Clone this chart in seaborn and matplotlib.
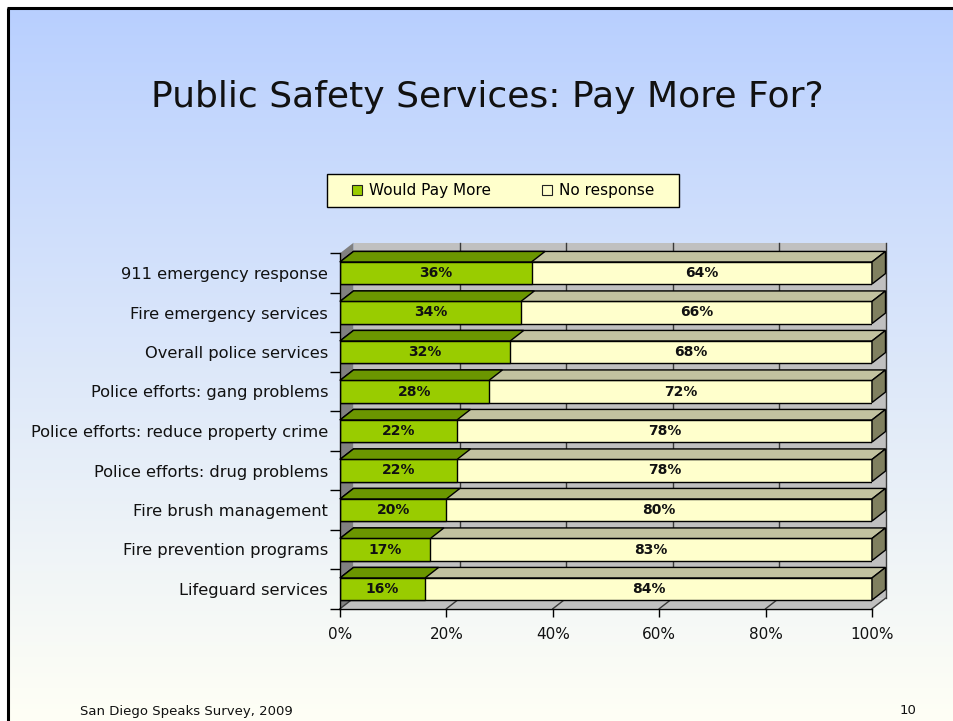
import numpy as np
import matplotlib
matplotlib.use("Agg")
import matplotlib.pyplot as plt
import seaborn as sns
import pandas as pd
from matplotlib.patches import Polygon, Rectangle
from matplotlib.lines import Line2D

# ---- data ----
services = [
    "911 emergency response",
    "Fire emergency services",
    "Overall police services",
    "Police efforts: gang problems",
    "Police efforts: reduce property crime",
    "Police efforts: drug problems",
    "Fire brush management",
    "Fire prevention programs",
    "Lifeguard services",
]
would_pay_more = [36, 34, 32, 28, 22, 22, 20, 17, 16]
no_response = [64, 66, 68, 72, 78, 78, 80, 83, 84]
x_ticks = [0, 20, 40, 60, 80, 100]
series_names = ["Would Pay More", "No response"]

# ---- colours ----
GREEN = "#99CC00"
GREEN_TOP = "#6B9600"
CREAM = "#FFFFCC"
CREAM_TOP = "#C2C2A0"
CREAM_SIDE = "#808060"
WALL = "#C0C0C0"
SIDE_WALL = "#808080"
TEXT = "#111111"

W, H = 954, 721
fig = plt.figure(figsize=(W / 100, H / 100), dpi=100)
fig.patch.set_facecolor("white")

# ---- slide background: vertical gradient with a black frame ----
bg = fig.add_axes([0, 0, 1, 1])
bg.set_axis_off()
t = np.linspace(0, 1, 256)[:, None, None]
top_rgb = np.array([184, 207, 255]) / 255
bot_rgb = np.array([255, 255, 245]) / 255
grad = top_rgb + (bot_rgb - top_rgb) * t ** 0.95
bg.imshow(grad, extent=[9, W, H, 9], aspect="auto", origin="upper", zorder=0)
bg.set_xlim(0, W)
bg.set_ylim(H, 0)
bg.plot([8, 8], [H, 7.5], color="black", lw=2.2, solid_capstyle="butt")
bg.plot([6.9, W], [8, 8], color="black", lw=2.2, solid_capstyle="butt")

# legend box
bg.add_patch(Rectangle((327, 174), 352, 33, facecolor=CREAM, edgecolor="black", lw=1, zorder=2))

# title and footer
fig.text(487 / W, 1 - 97 / H, "Public Safety Services: Pay More For?",
         ha="center", va="center", fontsize=26, color=TEXT)
fig.text(80 / W, 1 - 711 / H, "San Diego Speaks Survey, 2009",
         ha="left", va="center", fontsize=9.5, color=TEXT)
fig.text(916 / W, 1 - 711 / H, "10", ha="right", va="center", fontsize=9.5, color=TEXT)

# ---- chart ----
ax = fig.add_axes([340 / W, 1 - 608.75 / H, 532 / W, 355.5 / H])
ax.patch.set_alpha(0)

df = pd.DataFrame({"service": services, "pay": would_pay_more, "none": no_response})
df["total"] = df["pay"] + df["none"]

BAR_W = 0.56
sns.barplot(data=df, y="service", x="total", color=CREAM, orient="h", width=BAR_W,
            saturation=1, edgecolor="black", linewidth=1, ax=ax, zorder=3)
sns.barplot(data=df, y="service", x="pay", color=GREEN, orient="h", width=BAR_W,
            saturation=1, edgecolor="black", linewidth=1, ax=ax, zorder=4)

ax.set_xlim(0, 100)
ax.set_ylim(len(services) - 0.5, -0.5)
ymax, ymin = len(services) - 0.5, -0.5

# depth of the 3-D effect in data units
DX = 2.54
DY = 0.266

# walls and floor
ax.add_patch(Rectangle((DX, ymin - DY), 100, ymax - ymin, facecolor=WALL,
                       edgecolor="none", zorder=0.5, clip_on=False))
ax.add_patch(Polygon([(0, ymin), (DX, ymin - DY), (DX, ymax - DY), (0, ymax)],
                     closed=True, facecolor=SIDE_WALL, edgecolor="none", zorder=0.6, clip_on=False))
ax.add_patch(Polygon([(0, ymax), (100, ymax), (100 + DX, ymax - DY), (DX, ymax - DY)],
                     closed=True, facecolor=WALL, edgecolor="none", zorder=0.6, clip_on=False))
for xt in x_ticks[1:]:
    ax.plot([xt + DX, xt + DX], [ymin - DY, ymax - DY], color="#3a3a3a", lw=1,
            zorder=0.8, clip_on=False)
for xt in x_ticks:
    ax.plot([xt, xt + DX], [ymax, ymax - DY], color="#3a3a3a", lw=1,
            zorder=0.8, clip_on=False)

# 3-D faces on the bars
n = len(services)
cream_bars = ax.patches[:n]
green_bars = ax.patches[n:2 * n]
for p in cream_bars:
    x0, y0, w, h = p.get_x(), p.get_y(), p.get_width(), p.get_height()
    ax.add_patch(Polygon([(x0, y0), (x0 + w, y0), (x0 + w + DX, y0 - DY), (x0 + DX, y0 - DY)],
                         closed=True, facecolor=CREAM_TOP, edgecolor="black", lw=1,
                         zorder=3, clip_on=False))
    ax.add_patch(Polygon([(x0 + w, y0), (x0 + w + DX, y0 - DY), (x0 + w + DX, y0 + h - DY),
                          (x0 + w, y0 + h)],
                         closed=True, facecolor=CREAM_SIDE, edgecolor="black", lw=1,
                         zorder=3, clip_on=False))
for p in green_bars:
    x0, y0, w, h = p.get_x(), p.get_y(), p.get_width(), p.get_height()
    ax.add_patch(Polygon([(x0, y0), (x0 + w, y0), (x0 + w + DX, y0 - DY), (x0 + DX, y0 - DY)],
                         closed=True, facecolor=GREEN_TOP, edgecolor="black", lw=1,
                         zorder=4, clip_on=False))

# value labels
for i, (a, b) in enumerate(zip(would_pay_more, no_response)):
    ax.text(a / 2, i, f"{a}%", ha="center", va="center", fontsize=10,
            fontweight="bold", color=TEXT, zorder=6)
    ax.text(a + b / 2, i, f"{b}%", ha="center", va="center", fontsize=10,
            fontweight="bold", color=TEXT, zorder=6)

# axes styling
for s in ["top", "right"]:
    ax.spines[s].set_visible(False)
for s in ["left", "bottom"]:
    ax.spines[s].set_color("black")
    ax.spines[s].set_linewidth(1)
    ax.spines[s].set_zorder(5)
ax.set_xlabel("")
ax.set_ylabel("")
ax.set_xticks(x_ticks)
ax.set_xticklabels([f"{v}%" for v in x_ticks])
ax.tick_params(axis="x", length=6, width=1, color="black", pad=7, labelsize=11,
               labelcolor=TEXT)
ax.tick_params(axis="y", which="major", length=0, pad=8.5, labelsize=11.7, labelcolor=TEXT)
ax.set_yticks(np.arange(-0.5, n, 1), minor=True)
ax.tick_params(axis="y", which="minor", length=7, width=1, color="black")
ax.grid(False)

# legend
handles = [
    Line2D([0], [0], marker="s", ls="", markerfacecolor=GREEN, markeredgecolor="#222222",
           markersize=6.5, markeredgewidth=0.8),
    Line2D([0], [0], marker="s", ls="", markerfacecolor=CREAM, markeredgecolor="#222222",
           markersize=6.5, markeredgewidth=0.8),
]
fig.legend(handles, series_names, ncol=2, mode="expand", loc="center",
           bbox_to_anchor=(352 / W, 1 - 207 / H, 302 / W, 33 / H),
           frameon=False, borderpad=0, borderaxespad=0, fontsize=11,
           handlelength=0.7, handletextpad=0.4)

fig.savefig("out.png", dpi=100)
